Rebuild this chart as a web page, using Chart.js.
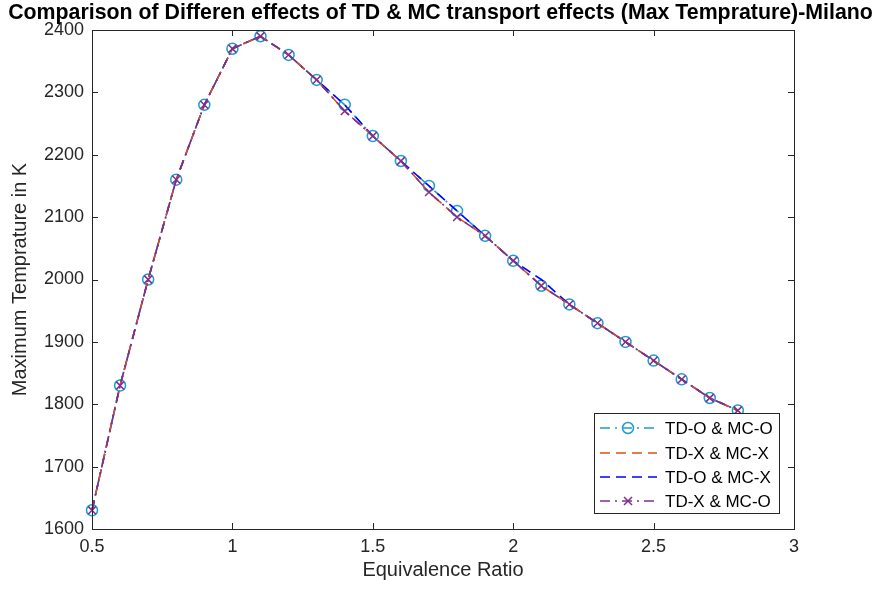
<!DOCTYPE html>
<html>
<head>
<meta charset="utf-8">
<script src="https://cdn.jsdelivr.net/npm/chart.js@4/dist/chart.umd.min.js"></script>
<style>
  html, body { margin: 0; padding: 0; background: #fff; }
  #wrap { width: 879px; height: 594px; }
</style>
</head>
<body>
<div id="wrap"><canvas id="c" width="879" height="594"></canvas></div>
<script>
// ---- data ----
const titleText = 'Comparison of Differen effects of TD & MC transport effects (Max Temprature)-Milano';
const xLabel = 'Equivalence Ratio';
const yLabel = 'Maximum Temprature in K';
const phi = [0.5,0.6,0.7,0.8,0.9,1.0,1.1,1.2,1.3,1.4,1.5,1.6,1.7,1.8,1.9,2.0,2.1,2.2,2.3,2.4,2.5,2.6,2.7,2.8];
const tdoMco = [1630,1830,2000,2160,2280,2370,2390,2360,2320,2280,2230,2190,2150,2110,2070,2030,1990,1960,1930,1900,1870,1840,1810,1790];
const tdxMcx = [1630,1830,2000,2160,2280,2370,2390,2360,2320,2270,2230,2190,2140,2100,2070,2030,1990,1960,1930,1900,1870,1840,1810,1790];
const tdoMcx = [1630,1830,2000,2160,2280,2370,2390,2360,2320,2280,2230,2190,2150,2110,2070,2030,2000,1960,1930,1900,1870,1840,1810,1790];
const tdxMco = [1630,1830,2000,2160,2280,2370,2390,2360,2320,2270,2230,2190,2140,2100,2070,2030,1990,1960,1930,1900,1870,1840,1810,1790];
const seriesNames = ['TD-O & MC-O','TD-X & MC-X','TD-O & MC-X','TD-X & MC-O'];
const xTicks = [0.5,1,1.5,2,2.5,3];
const yTicks = [1600,1700,1800,1900,2000,2100,2200,2300,2400];

const AX = '#262626';
const FONT = '"Liberation Sans", Arial, sans-serif';
const DASH = [10,6];
const DASHDOT = [10,5,2,5];

function pts(ys){ return phi.map((x,i)=>({x:x,y:ys[i]})); }

// order: lower value is drawn on top (purple top, then orange, blue, cyan)
const datasets = [
  {label:seriesNames[0], data:pts(tdoMco), order:3, borderColor:'#1E9BD3', borderDash:DASHDOT, pointStyle:'circle', pointRadius:5.5, pointBorderWidth:1.5},
  {label:seriesNames[1], data:pts(tdxMcx), order:1, borderColor:'#D95319', borderDash:DASH, pointStyle:false, pointRadius:0, pointBorderWidth:0},
  {label:seriesNames[2], data:pts(tdoMcx), order:2, borderColor:'#0000FF', borderDash:DASH, pointStyle:false, pointRadius:0, pointBorderWidth:0},
  {label:seriesNames[3], data:pts(tdxMco), order:0, borderColor:'#7E2F8E', borderDash:DASHDOT, pointStyle:'crossRot', pointRadius:5.5, pointBorderWidth:1.5}
].map(d => Object.assign({
  borderWidth:1.6, backgroundColor:'rgba(0,0,0,0)', pointBackgroundColor:'rgba(0,0,0,0)',
  pointBorderColor:d.borderColor, tension:0, clip:false, fill:false, pointHoverRadius:0
}, d));

const framePlugin = {
  id:'frame',
  afterDraw(chart){
    const ctx = chart.ctx, a = chart.chartArea;
    const xs = chart.scales.x, ys = chart.scales.y;
    ctx.save();
    // box
    ctx.strokeStyle = AX; ctx.lineWidth = 1; ctx.setLineDash([]);
    ctx.strokeRect(Math.round(a.left)+0.5, Math.round(a.top)+0.5, Math.round(a.right-a.left), Math.round(a.bottom-a.top));
    // inner ticks on all sides
    const tl = 6;
    ctx.beginPath();
    xTicks.forEach(v => {
      const px = Math.round(xs.getPixelForValue(v))+0.5;
      ctx.moveTo(px, a.bottom); ctx.lineTo(px, a.bottom - tl);
      ctx.moveTo(px, a.top); ctx.lineTo(px, a.top + tl);
    });
    yTicks.forEach(v => {
      const py = Math.round(ys.getPixelForValue(v))+0.5;
      ctx.moveTo(a.left, py); ctx.lineTo(a.left + tl, py);
      ctx.moveTo(a.right, py); ctx.lineTo(a.right - tl, py);
    });
    ctx.stroke();

    // title
    ctx.fillStyle = '#000';
    ctx.font = 'bold 100px ' + FONT;
    const w100 = ctx.measureText(titleText).width;
    const ts = 100 * 865 / w100;
    ctx.font = 'bold ' + ts.toFixed(2) + 'px ' + FONT;
    ctx.textAlign = 'center'; ctx.textBaseline = 'middle';
    ctx.fillText(titleText, 440.5, 13);

    // legend (in series order)
    const L = 594, T = 413, R = 779, B = 513;
    ctx.fillStyle = '#fff';
    ctx.fillRect(L, T, R-L, B-T);
    ctx.strokeStyle = AX; ctx.lineWidth = 1;
    ctx.strokeRect(L+0.5, T+0.5, R-L, B-T);
    const rows = [428, 453, 477, 501];
    chart.data.datasets.forEach((d, i) => {
      const y = rows[i];
      ctx.strokeStyle = d.borderColor; ctx.lineWidth = 1.5;
      ctx.setLineDash(d.borderDash);
      ctx.beginPath(); ctx.moveTo(600, y); ctx.lineTo(657, y); ctx.stroke();
      ctx.setLineDash([]);
      if (d.pointStyle === 'circle') {
        ctx.lineWidth = 1.5;
        ctx.beginPath(); ctx.arc(628, y, 5.5, 0, Math.PI*2); ctx.stroke();
      } else if (d.pointStyle === 'crossRot') {
        const r = 4;
        ctx.lineWidth = 1.5;
        ctx.beginPath();
        ctx.moveTo(628-r, y-r); ctx.lineTo(628+r, y+r);
        ctx.moveTo(628-r, y+r); ctx.lineTo(628+r, y-r);
        ctx.stroke();
      }
      ctx.fillStyle = '#000';
      ctx.font = '17px ' + FONT;
      ctx.textAlign = 'left'; ctx.textBaseline = 'middle';
      ctx.fillText(d.label, 665, y+1);
    });
    ctx.restore();
  }
};

new Chart(document.getElementById('c'), {
  type:'line',
  data:{datasets:datasets},
  options:{
    responsive:false, animation:false, events:[],
    layout:{padding:{left:0, right:85, top:30, bottom:0}},
    plugins:{legend:{display:false}, title:{display:false}, tooltip:{enabled:false}},
    scales:{
      x:{
        type:'linear', min:0.5, max:3,
        afterFit:s=>{ s.height = 65; },
        afterBuildTicks:s=>{ s.ticks = xTicks.map(v=>({value:v})); },
        ticks:{callback:v=>String(v), color:AX, font:{family:FONT, size:18}, padding:7, maxRotation:0, autoSkip:false},
        grid:{display:false, drawTicks:false},
        border:{display:false},
        title:{display:true, text:xLabel, color:AX, font:{family:FONT, size:20}, padding:{top:0, bottom:12}}
      },
      y:{
        type:'linear', min:1600, max:2400,
        afterFit:s=>{ s.width = 92; },
        afterBuildTicks:s=>{ s.ticks = yTicks.map(v=>({value:v})); },
        ticks:{callback:v=>String(v), color:AX, font:{family:FONT, size:18}, padding:8, autoSkip:false},
        grid:{display:false, drawTicks:false},
        border:{display:false},
        title:{display:true, text:yLabel, color:AX, font:{family:FONT, size:20}, padding:{top:8, bottom:0}}
      }
    }
  },
  plugins:[framePlugin]
});
</script>
</body>
</html>
